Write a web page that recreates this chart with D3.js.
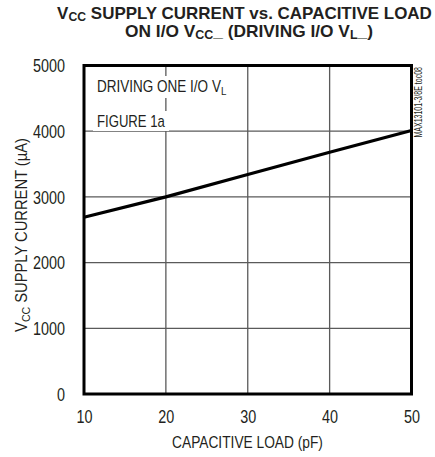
<!DOCTYPE html>
<html><head><meta charset="utf-8">
<script src="https://cdn.jsdelivr.net/npm/d3@7"></script>
<style>
body{margin:0;background:#fff;}
text{font-family:"Liberation Sans Narrow","Arial Narrow","Liberation Sans",Arial,sans-serif;fill:#231f20;}
</style></head>
<body>
<svg id="c" width="435" height="457"></svg>
<script>
const loadPF = [10, 20, 30, 40, 50];
const currentUA = [2690, 3000, 3340, 3680, 4010];
const xTicks = [10, 20, 30, 40, 50];
const yTicks = [0, 1000, 2000, 3000, 4000, 5000];

const svg = d3.select("#c");
const L = 84, R = 411.5, T = 65.5, B = 394;
const x = d3.scaleLinear().domain([10, 50]).range([L, R]);
const y = d3.scaleLinear().domain([0, 5000]).range([B, T]);

// text helper: condensed by horizontal scaling; opts.width = target width or opts.sx = scale
function ctext(parent, px, py, opts, parts) {
  const g = parent.append("g").attr("transform", `translate(${px},${py})` + (opts.rotate ? ` rotate(${opts.rotate})` : ""));
  const t = g.append("text").attr("text-anchor", opts.anchor || "start")
    .attr("font-size", opts.size).attr("font-weight", opts.weight || "normal");
  parts.forEach(p => {
    const ts = t.append("tspan").text(p.t);
    if (p.sub) ts.attr("font-size", opts.size * 0.72).attr("dy", opts.subDy || 3);
    if (p.back) ts.attr("dy", -(opts.subDy || 3));
  });
  const bb = t.node().getBBox();
  const sx = opts.width ? opts.width / bb.width : (opts.sx || 1);
  t.attr("transform", `scale(${sx},1)`);
  return {g, t, bb, sx};
}

// Gridlines
const g = svg.append("g");
g.selectAll("line.v").data(xTicks.slice(1, -1)).enter().append("line")
  .attr("x1", d => x(d)).attr("x2", d => x(d)).attr("y1", T).attr("y2", B)
  .attr("stroke", "#5a5a5a").attr("stroke-width", 1.3);
g.selectAll("line.h").data(yTicks.slice(1, -1)).enter().append("line")
  .attr("x1", L).attr("x2", R).attr("y1", d => y(d)).attr("y2", d => y(d))
  .attr("stroke", "#5a5a5a").attr("stroke-width", 1.3);

// Annotations with white boxes
function boxed(px, py, parts, width) {
  const r = ctext(svg, px, py, {size: 16, width: width}, parts);
  r.g.insert("rect", "text").attr("fill", "#fff")
    .attr("x", -4).attr("y", r.bb.y - 2).attr("width", width + 8).attr("height", r.bb.height + 3);
}
boxed(97, 92, [{t: "DRIVING ONE I/O V"}, {t: "L", sub: true}], 130);
boxed(97, 127, [{t: "FIGURE 1a"}], 68);

// Data line
svg.append("path").datum(loadPF.map((d, i) => [d, currentUA[i]]))
  .attr("d", d3.line().x(d => x(d[0])).y(d => y(d[1])))
  .attr("fill", "none").attr("stroke", "#000").attr("stroke-width", 3.2);

// Border
svg.append("rect").attr("x", L).attr("y", T).attr("width", R - L).attr("height", B - T)
  .attr("fill", "none").attr("stroke", "#000").attr("stroke-width", 3);

// Tick labels (positioned by the scales)
const fmt = d3.format("d");
xTicks.forEach(v => ctext(svg, x(v) + 0.5, 423, {size: 18, sx: 0.8, anchor: "middle"}, [{t: fmt(v)}]));
yTicks.forEach(v => ctext(svg, 65, y(v) + 6.8, {size: 18, sx: 0.8, anchor: "end"}, [{t: fmt(v)}]));

// Axis titles
ctext(svg, 247.5, 448, {size: 16, width: 151, anchor: "middle"}, [{t: "CAPACITIVE LOAD (pF)"}]);
ctext(svg, 27, 235, {size: 16, width: 194, anchor: "middle", rotate: -90},
  [{t: "V"}, {t: "CC", sub: true}, {t: " SUPPLY CURRENT (µA)", back: true}]);

// Title
ctext(svg, 244.5, 19, {size: 16.5, weight: "bold", width: 375, anchor: "middle", subDy: 2},
  [{t: "V"}, {t: "CC", sub: true}, {t: " SUPPLY CURRENT vs. CAPACITIVE LOAD", back: true}]);
ctext(svg, 249, 36.5, {size: 16.5, weight: "bold", width: 248, anchor: "middle", subDy: 2},
  [{t: "ON I/O V"}, {t: "CC", sub: true}, {t: "_ (DRIVING I/O V", back: true}, {t: "L", sub: true}, {t: "_)", back: true}]);

// Side code
ctext(svg, 422, 67, {size: 10, width: 71, anchor: "end", rotate: -90}, [{t: "MAX13101-3/8E toc08"}]);
</script>
</body></html>
